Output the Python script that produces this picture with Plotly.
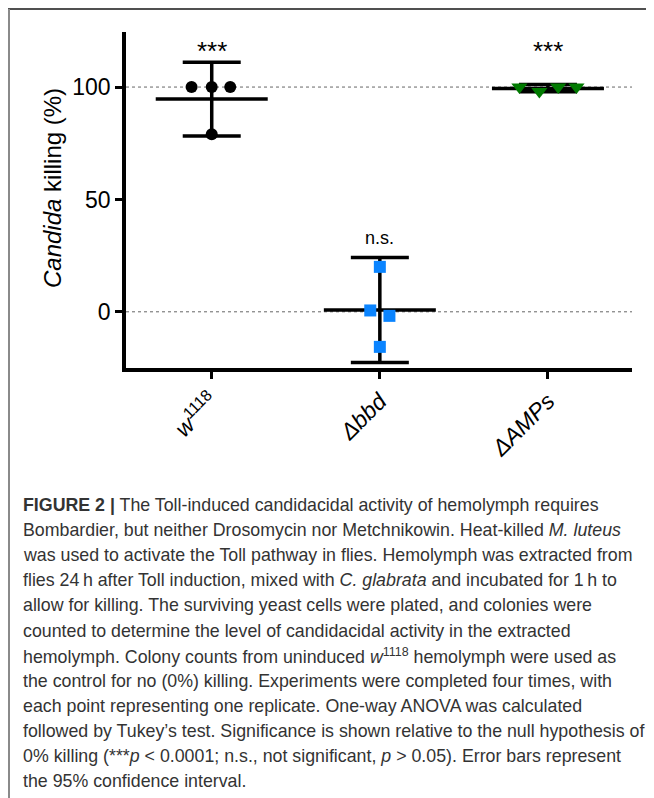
import plotly.graph_objects as go

# ---------------- data ----------------
categories = ["w1118", "Δbbd", "ΔAMPs"]
tick_labels = ["<i>w</i><sup>1118</sup>", "<i>Δbbd</i>", "<i>ΔAMPs</i>"]

w1118_values = [100, 100, 100, 79]
w1118_offsets = [-0.12, 0.0, 0.11, 0.0]
bbd_values = [20, 0.6, -1.8, -15.6]
bbd_offsets = [0.0, -0.057, 0.057, 0.0]
amps_values = [100, 98, 100, 100]
amps_offsets = [-0.17, -0.051, 0.061, 0.17]

means = [94.7, 0.8, 99.4]
ci_upper = [111.0, 24.2, 101.1]
ci_lower = [78.2, -22.5, 97.9]

significance = ["***", "n.s.", "***"]
signif_y = [116, 33, 116]

caption_lines = [
    "<b>FIGURE 2 |</b> The Toll-induced candidacidal activity of hemolymph requires",
    "Bombardier, but neither Drosomycin nor Metchnikowin. Heat-killed <i>M. luteus</i>",
    "was used to activate the Toll pathway in flies. Hemolymph was extracted from",
    "flies 24\u2009h after Toll induction, mixed with <i>C. glabrata</i> and incubated for 1\u2009h to",
    "allow for killing. The surviving yeast cells were plated, and colonies were",
    "counted to determine the level of candidacidal activity in the extracted",
    "hemolymph. Colony counts from uninduced <i>w</i><sup>1118</sup> hemolymph were used as",
    "the control for no (0%) killing. Experiments were completed four times, with",
    "each point representing one replicate. One-way ANOVA was calculated",
    "followed by Tukey\u2019s test. Significance is shown relative to the null hypothesis of",
    "0% killing (***<i>p</i> &lt; 0.0001; n.s., not significant, <i>p</i> &gt; 0.05). Error bars represent",
    "the 95% confidence interval.",
]

# ---------------- layout geometry (screen pixels; page body has an 8px margin) ----------------
OFF = 8
W, H = 654 - OFF, 798 - OFF
L, R, T, B = 126, 632, 32, 368  # plot area in screen pixels


def px(xs):
    return (xs - L) / (R - L)


def py(ys):
    return (B - ys) / (B - T)


FONT = "Arial, Liberation Sans, sans-serif"
CAP_FONT = "Liberation Sans, Arial, sans-serif"

fig = go.Figure()

# mean lines + 95% CI error bars
fig.add_trace(go.Scatter(
    x=[0, 1, 2], y=means, mode="markers",
    marker=dict(symbol="line-ew", size=80, color="black",
                line=dict(width=3.5, color="black")),
    error_y=dict(type="data", symmetric=False,
                 array=[u - m for u, m in zip(ci_upper, means)],
                 arrayminus=[m - lo for m, lo in zip(means, ci_lower)],
                 thickness=3.5, width=29, color="black"),
    showlegend=False, hoverinfo="skip",
))

# individual replicate points
fig.add_trace(go.Scatter(
    x=[0 + o for o in w1118_offsets], y=w1118_values, mode="markers",
    marker=dict(symbol="circle", size=12, color="black"),
    showlegend=False, name=categories[0],
))
fig.add_trace(go.Scatter(
    x=[1 + o for o in bbd_offsets], y=bbd_values, mode="markers",
    marker=dict(symbol="square", size=12, color="#0a84ff"),
    showlegend=False, name=categories[1],
))
fig.add_trace(go.Scatter(
    x=[2 + o for o in amps_offsets], y=amps_values, mode="markers",
    marker=dict(symbol="triangle-down", size=14, color="#007a00"),
    showlegend=False, name=categories[2],
))

shapes = []
# dotted reference lines at 0 and 100
for yv in (0, 100):
    shapes.append(dict(type="line", xref="paper", yref="y", x0=0, x1=1, y0=yv, y1=yv,
                       line=dict(color="#666666", width=1, dash="dot"), layer="below"))
# figure frame (top and left)
shapes.append(dict(type="line", xref="paper", yref="paper", x0=px(8), x1=px(660),
                   y0=py(9), y1=py(9), line=dict(color="#505050", width=2)))
shapes.append(dict(type="line", xref="paper", yref="paper", x0=px(9), x1=px(9),
                   y0=py(9), y1=py(800), line=dict(color="#8a8a8a", width=2)))

annotations = []
for i, (s, yv) in enumerate(zip(significance, signif_y)):
    annotations.append(dict(x=i, y=yv, xref="x", yref="y", text=s, showarrow=False,
                            font=dict(family=FONT, size=26 if s == "***" else 18, color="black")))

annotations.append(dict(x=px(52), y=py(188), xref="paper", yref="paper",
                        xanchor="center", yanchor="middle",
                        text="<i>Candida</i> killing (%)", textangle=-90, showarrow=False,
                        font=dict(family=FONT, size=24, color="black")))

for k, line in enumerate(caption_lines):
    annotations.append(dict(x=px(21), y=py(505 + 25.1 * k), xref="paper", yref="paper",
                            text=line, showarrow=False, xanchor="left", yanchor="middle",
                            font=dict(family=CAP_FONT, size=17.8, color="#333333")))

fig.update_layout(
    width=W, height=H,
    margin=dict(l=L - OFF, r=W - (R - OFF), t=T - OFF, b=H - (B - OFF), autoexpand=False),
    paper_bgcolor="white", plot_bgcolor="white",
    shapes=shapes, annotations=annotations,
    showlegend=False,
)
fig.update_xaxes(range=[-0.51, 2.5], tickvals=[0, 1, 2], ticktext=tick_labels,
                 tickangle=-45, ticks="outside", ticklen=7, tickwidth=3, tickcolor="black",
                 showline=True, linewidth=3.5, linecolor="black", showgrid=False, zeroline=False,
                 tickfont=dict(family=FONT, size=23, color="black"))
fig.update_yaxes(range=[-25, 124.5], tickvals=[0, 50, 100], ticktext=["0", "50", "100"],
                 ticks="outside", ticklen=7, tickwidth=3, tickcolor="black",
                 showline=True, linewidth=3.5, linecolor="black", showgrid=False, zeroline=False,
                 tickfont=dict(family=FONT, size=23, color="black"))

fig.write_html("out.html")
